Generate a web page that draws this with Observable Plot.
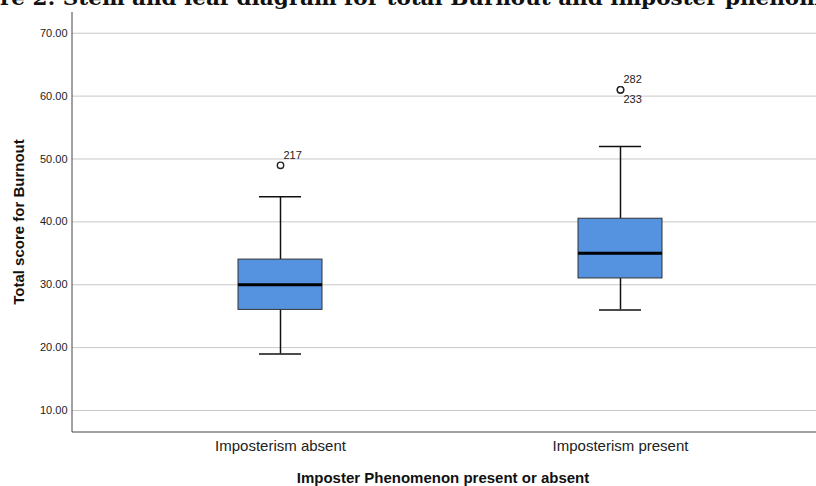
<!DOCTYPE html>
<html>
<head>
<meta charset="utf-8">
<script src="https://cdn.jsdelivr.net/npm/d3@7"></script>
<script src="https://cdn.jsdelivr.net/npm/@observablehq/plot@0.6"></script>
<style>
  html, body { margin: 0; padding: 0; background: #fff; overflow: hidden; }
  #chart { position: relative; width: 816px; height: 486px; }
</style>
</head>
<body>
<div id="chart"></div>
<script>
// ---- data ----
const groups = ["Imposterism absent", "Imposterism present"];
const whiskerLow = [19, 26];
const q1 = [26, 31];
const median = [30, 35];
const q3 = [34, 40.5];
const whiskerHigh = [44, 52];
const outlierGroup = ["Imposterism absent", "Imposterism present", "Imposterism present"];
const outlierValue = [49, 61, 61];
const outlierId = ["217", "282", "233"];
const yTicks = [10, 20, 30, 40, 50, 60, 70];
const titleText = "Figure 2: Stem and leaf diagram for total Burnout and imposter phenomenon";
const yLabel = "Total score for Burnout";
const xLabel = "Imposter Phenomenon present or absent";

const boxes = groups.map((g, i) => ({
  g, lo: whiskerLow[i], q1: q1[i], med: median[i], q3: q3[i], hi: whiskerHigh[i]
}));
const seen = {};
const outliers = outlierValue.map((v, i) => {
  const key = outlierGroup[i] + "|" + v;
  const k = seen[key] = (seen[key] ?? -1) + 1;
  return { g: outlierGroup[i], v, id: outlierId[i], k };
});

const W = 816, H = 486, mL = 72, mT = 12, mB = 54;
const font = "Liberation Sans, Arial, Helvetica, sans-serif";

const plot = Plot.plot({
  width: W,
  height: H,
  marginLeft: mL,
  marginRight: 0,
  marginTop: mT,
  marginBottom: mB,
  style: { fontFamily: font, background: "#fff", overflow: "visible" },
  x: { type: "band", domain: groups, range: [mL, 828], paddingInner: 0.753, paddingOuter: 0.488, label: null },
  y: { domain: [6.5, 73.3], label: null },
  marks: [
    Plot.ruleY(yTicks, { stroke: "#c8c8c8", strokeWidth: 1 }),
    Plot.axisY({ ticks: yTicks, tickFormat: d3.format(".2f"), tickSize: 0, tickPadding: 5, fontSize: 11, fill: "#222", label: null }),
    Plot.axisX({ tickSize: 0, tickPadding: 8, fontSize: 15, fill: "#222", label: null }),
    Plot.ruleX(boxes, { x: "g", y1: "lo", y2: "q1", stroke: "#111", strokeWidth: 1.5 }),
    Plot.ruleX(boxes, { x: "g", y1: "q3", y2: "hi", stroke: "#111", strokeWidth: 1.5 }),
    Plot.tickY(boxes, { x: "g", y: "lo", stroke: "#111", strokeWidth: 1.5, insetLeft: 21, insetRight: 21 }),
    Plot.tickY(boxes, { x: "g", y: "hi", stroke: "#111", strokeWidth: 1.5, insetLeft: 21, insetRight: 21 }),
    Plot.barY(boxes, { x: "g", y1: "q1", y2: "q3", fill: "#5592e0", stroke: "#333", strokeWidth: 1 }),
    Plot.tickY(boxes, { x: "g", y: "med", stroke: "#000", strokeWidth: 3 }),
    Plot.dot(outliers, { x: "g", y: "v", r: 3.2, stroke: "#222", strokeWidth: 1.4, fill: "#fff" }),
    Plot.text(outliers.filter(d => d.k === 0), {
      x: "g", y: "v", text: "id", textAnchor: "start", dx: 3, dy: -10, fontSize: 11, fill: "#222"
    }),
    Plot.text(outliers.filter(d => d.k === 1), {
      x: "g", y: "v", text: "id", textAnchor: "start", dx: 3, dy: 10, fontSize: 11, fill: "#222"
    })
  ]
});

document.getElementById("chart").appendChild(plot);

// axis lines, title and axis titles
const svg = d3.select(plot);
const ys = plot.scale("y");
const yBottom = ys.apply(6.5), yTop = ys.apply(73.3);
svg.append("line").attr("x1", mL).attr("x2", mL).attr("y1", yTop).attr("y2", yBottom)
  .attr("stroke", "#444").attr("stroke-width", 1);
svg.append("line").attr("x1", mL).attr("x2", W).attr("y1", yBottom).attr("y2", yBottom)
  .attr("stroke", "#444").attr("stroke-width", 1);

svg.append("text").text(yLabel)
  .attr("transform", `translate(24,${(yTop + yBottom) / 2}) rotate(-90)`)
  .attr("text-anchor", "middle").attr("font-weight", "bold").attr("font-size", 15)
  .attr("font-family", font).attr("fill", "#111");

svg.append("text").text(xLabel)
  .attr("x", 443).attr("y", 483)
  .attr("text-anchor", "middle").attr("font-weight", "bold").attr("font-size", 15)
  .attr("font-family", font).attr("fill", "#111");

// title, mostly cut off at the top of the picture
const tfont = "DejaVu Serif, Liberation Serif, serif";
const tSize = 20;
function measure(s) {
  const t = svg.append("text").text(s).attr("font-weight", "bold").attr("font-size", tSize)
    .attr("text-anchor", "start").attr("font-family", tfont).style("white-space", "pre");
  const w = t.node().getComputedTextLength();
  t.remove();
  return w;
}
const hidden = measure("Figu");
const visible = measure("re 2: Stem and leaf diagram for total Burnout and imposter phenom");
const scaleX = 822 / visible;
svg.append("text").text(titleText)
  .attr("transform", `translate(${-hidden * scaleX},5) scale(${scaleX},1)`)
  .attr("text-anchor", "start")
  .attr("font-weight", "bold").attr("font-size", tSize)
  .attr("font-family", tfont).attr("fill", "#111");
</script>
</body>
</html>
